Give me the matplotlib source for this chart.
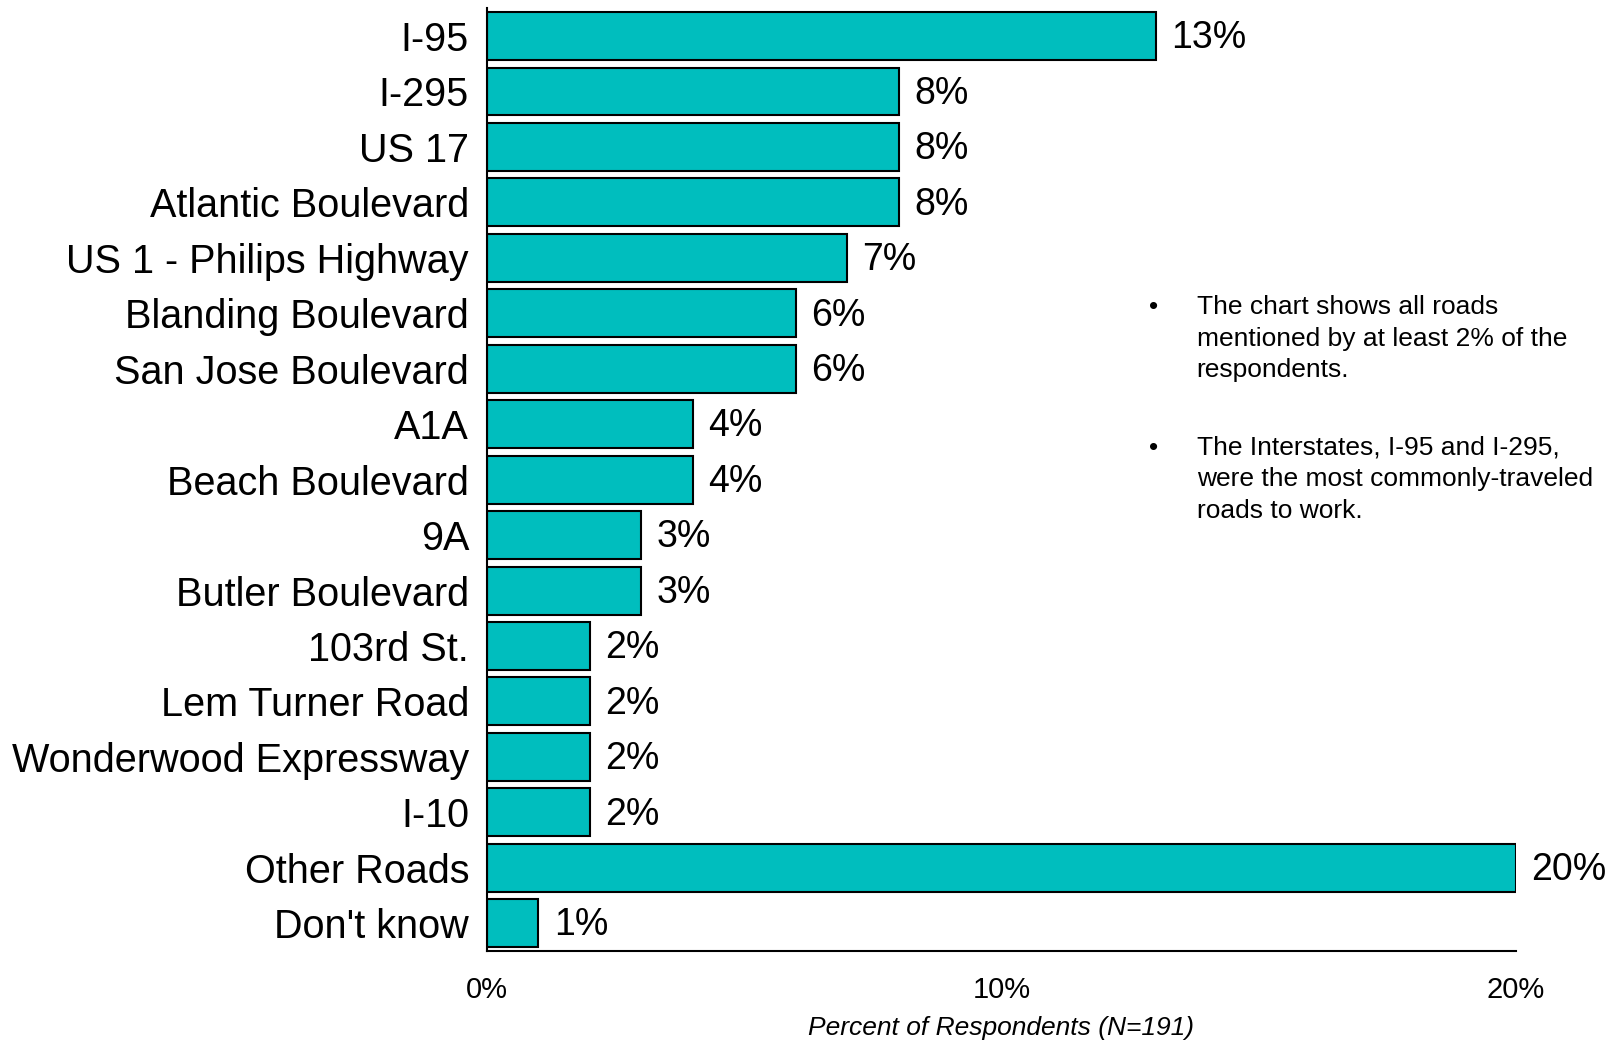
'''
Fun: roads traveled to work, horizontal bar chart
'''

import matplotlib
matplotlib.use('Agg')
import matplotlib.pyplot as plt

roads = ['I-95', 'I-295', 'US 17', 'Atlantic Boulevard', 'US 1 - Philips Highway',
	'Blanding Boulevard', 'San Jose Boulevard', 'A1A', 'Beach Boulevard', '9A',
	'Butler Boulevard', '103rd St.', 'Lem Turner Road', 'Wonderwood Expressway',
	'I-10', 'Other Roads', "Don't know"]
percents = [13, 8, 8, 8, 7, 6, 6, 4, 4, 3, 3, 2, 2, 2, 2, 20, 1]
x_ticks = [0, 10, 20]
x_title = 'Percent of Respondents (N=191)'
notes = ['The chart shows all roads\nmentioned by at least 2% of the\nrespondents.',
	'The Interstates, I-95 and I-295,\nwere the most commonly-traveled\nroads to work.']


def main():
	plt.rcParams['font.family'] = ['Liberation Sans', 'DejaVu Sans']
	fig = plt.figure(figsize=(16.16, 10.4), dpi=100)
	ax = fig.add_axes([0.3014, 0.0856, 0.6366, 0.9064])

	y = list(range(len(roads)))
	ax.barh(y, percents, height=0.865, color='#00BEBE', edgecolor='black', linewidth=1.5)
	for i, v in enumerate(percents):
		ax.text(v + 0.3, i + 0.04, '%d%%' % v, va='center', ha='left', fontsize=27)

	ax.set_ylim(16.5, -0.5)
	ax.set_xlim(0, 20)
	ax.set_yticks(y)
	ax.set_yticklabels(roads, fontsize=28.5)
	ax.set_xticks(x_ticks)
	ax.set_xticklabels(['%d%%' % t for t in x_ticks], fontsize=21)
	ax.tick_params(length=0, pad=18)
	ax.tick_params(axis='y', pad=13)
	ax.set_xlabel(x_title, fontsize=19, style='italic', labelpad=9)

	for s in ['top', 'right']:
		ax.spines[s].set_visible(False)
	ax.spines['left'].set_linewidth(1.5)
	ax.spines['bottom'].set_linewidth(1.5)

	# side notes with bullets
	for ny, note in zip([0.716, 0.581], notes):
		fig.text(0.711, ny, '\u2022', fontsize=19, va='top')
		fig.text(0.7405, ny, note, fontsize=19, va='top', linespacing=1.39)

	fig.savefig('out.png', dpi=100)


if __name__ == '__main__':
	main()
